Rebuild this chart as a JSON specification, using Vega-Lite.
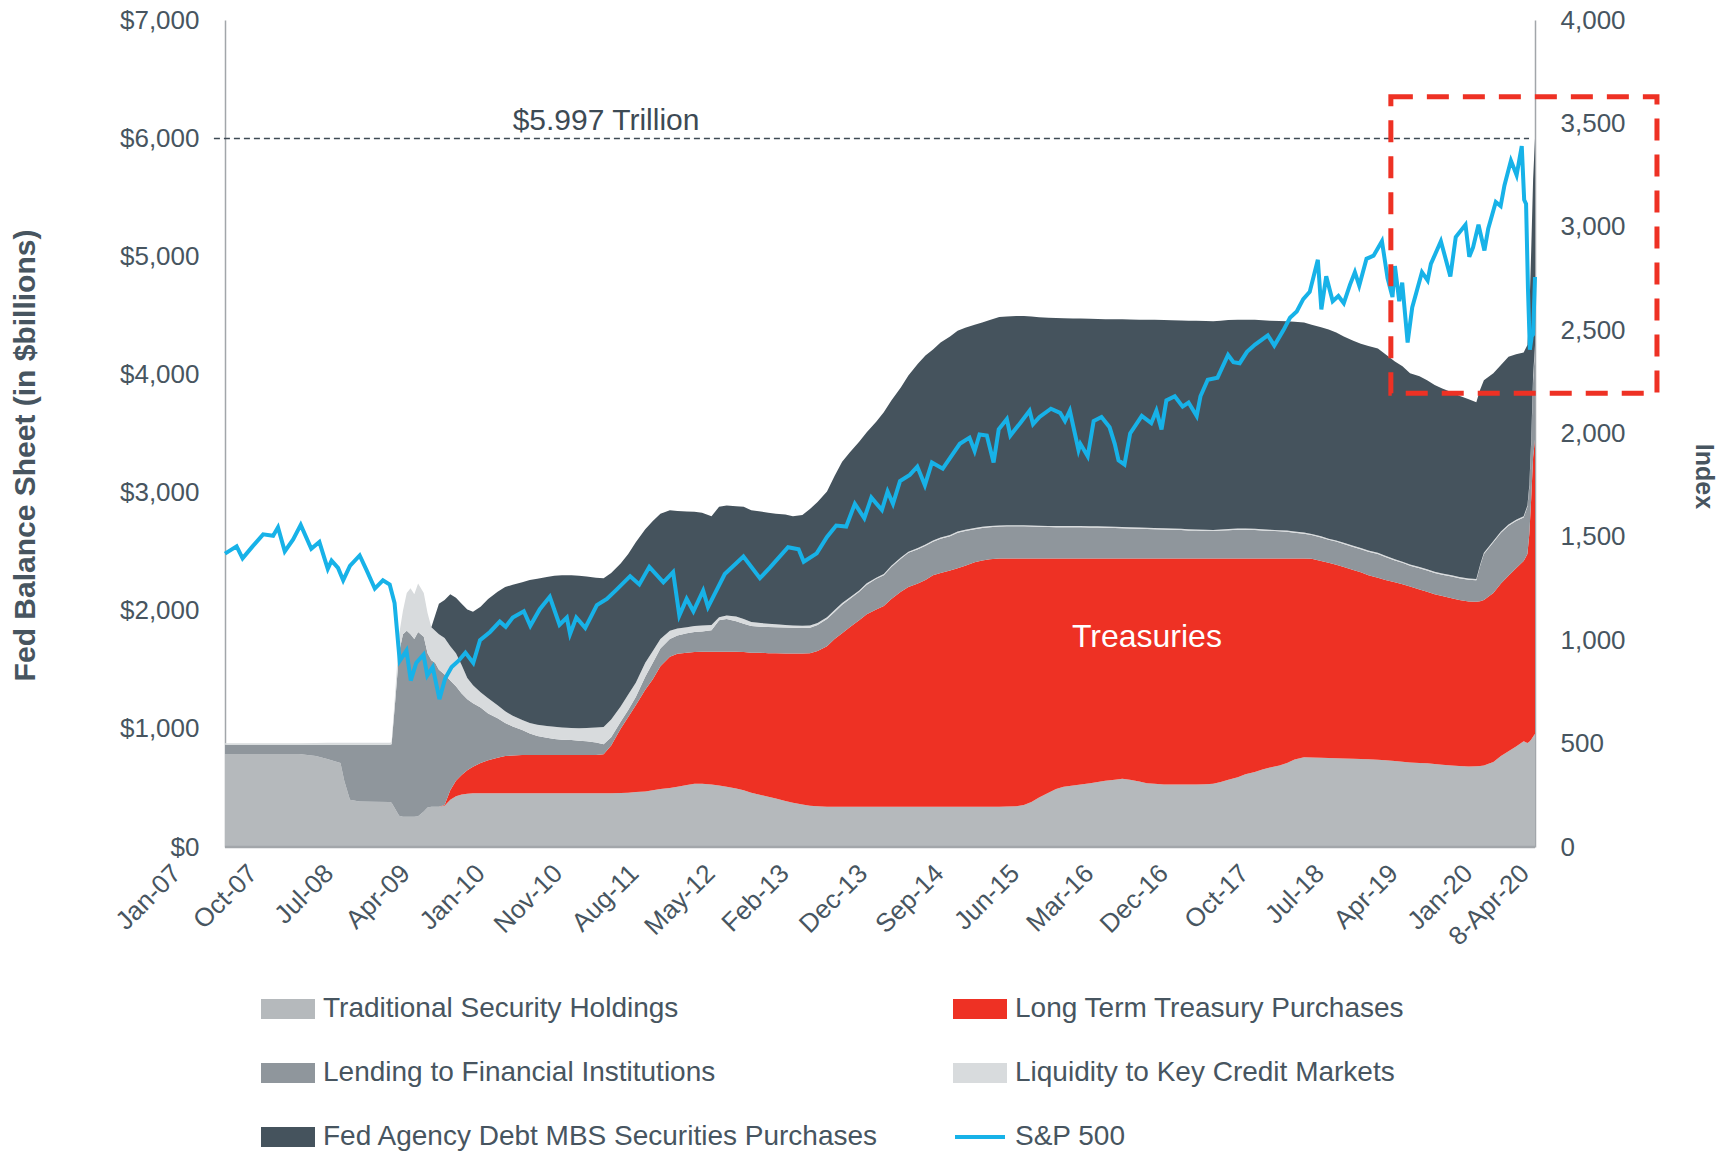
{
  "$schema": "https://vega.github.io/schema/vega-lite/v6.json",
  "width": 1310,
  "height": 827,
  "autosize": {"type": "none"},
  "padding": {"left": 225, "top": 20, "right": 193, "bottom": 306},
  "background": "white",
  "config": {
    "view": {"stroke": null},
    "font": "Liberation Sans",
    "axis": {"grid": false, "labelFont": "Liberation Sans", "titleFont": "Liberation Sans"},
    "legend": {"labelFont": "Liberation Sans"}
  },
  "datasets": {
    "fed": [
      {"date":"2007-01-03","trad":787,"lttp":0,"lend":78,"liq":13,"mbs":0},
      {"date":"2007-04-04","trad":787,"lttp":0,"lend":78,"liq":13,"mbs":0},
      {"date":"2007-07-04","trad":787,"lttp":0,"lend":78,"liq":13,"mbs":0},
      {"date":"2007-10-03","trad":787,"lttp":0,"lend":78,"liq":13,"mbs":0},
      {"date":"2007-12-05","trad":770,"lttp":0,"lend":96,"liq":14,"mbs":0},
      {"date":"2008-01-16","trad":745,"lttp":0,"lend":121,"liq":16,"mbs":0},
      {"date":"2008-03-05","trad":710,"lttp":0,"lend":156,"liq":16,"mbs":0},
      {"date":"2008-03-19","trad":560,"lttp":0,"lend":306,"liq":16,"mbs":0},
      {"date":"2008-04-09","trad":400,"lttp":0,"lend":466,"liq":16,"mbs":0},
      {"date":"2008-05-14","trad":385,"lttp":0,"lend":481,"liq":16,"mbs":0},
      {"date":"2008-07-02","trad":384,"lttp":0,"lend":482,"liq":16,"mbs":0},
      {"date":"2008-09-03","trad":380,"lttp":0,"lend":486,"liq":16,"mbs":0},
      {"date":"2008-09-10","trad":375,"lttp":0,"lend":495,"liq":16,"mbs":0},
      {"date":"2008-09-24","trad":320,"lttp":0,"lend":930,"liq":80,"mbs":0},
      {"date":"2008-10-08","trad":265,"lttp":0,"lend":1385,"liq":150,"mbs":0},
      {"date":"2008-10-22","trad":255,"lttp":0,"lend":1545,"liq":200,"mbs":0},
      {"date":"2008-11-05","trad":255,"lttp":0,"lend":1575,"liq":320,"mbs":0},
      {"date":"2008-11-19","trad":255,"lttp":0,"lend":1545,"liq":390,"mbs":0},
      {"date":"2008-12-03","trad":255,"lttp":0,"lend":1505,"liq":380,"mbs":0},
      {"date":"2008-12-17","trad":260,"lttp":0,"lend":1560,"liq":410,"mbs":0},
      {"date":"2009-01-07","trad":300,"lttp":0,"lend":1480,"liq":370,"mbs":0},
      {"date":"2009-01-21","trad":335,"lttp":0,"lend":1305,"liq":340,"mbs":0},
      {"date":"2009-02-04","trad":341,"lttp":0,"lend":1239,"liq":280,"mbs":0},
      {"date":"2009-02-18","trad":341,"lttp":0,"lend":1219,"liq":270,"mbs":130},
      {"date":"2009-03-04","trad":341,"lttp":0,"lend":1159,"liq":300,"mbs":260},
      {"date":"2009-03-25","trad":350,"lttp":5,"lend":1105,"liq":310,"mbs":320},
      {"date":"2009-04-15","trad":400,"lttp":80,"lend":930,"liq":290,"mbs":440},
      {"date":"2009-05-06","trad":430,"lttp":130,"lend":800,"liq":280,"mbs":470},
      {"date":"2009-05-27","trad":445,"lttp":165,"lend":690,"liq":240,"mbs":520},
      {"date":"2009-06-17","trad":450,"lttp":200,"lend":600,"liq":180,"mbs":580},
      {"date":"2009-07-08","trad":454,"lttp":226,"lend":536,"liq":154,"mbs":622},
      {"date":"2009-08-05","trad":455,"lttp":255,"lend":470,"liq":130,"mbs":724},
      {"date":"2009-09-02","trad":455,"lttp":280,"lend":395,"liq":130,"mbs":840},
      {"date":"2009-10-07","trad":455,"lttp":300,"lend":335,"liq":110,"mbs":960},
      {"date":"2009-11-04","trad":455,"lttp":315,"lend":280,"liq":100,"mbs":1050},
      {"date":"2009-12-02","trad":455,"lttp":320,"lend":245,"liq":90,"mbs":1110},
      {"date":"2010-01-06","trad":455,"lttp":323,"lend":212,"liq":85,"mbs":1165},
      {"date":"2010-02-03","trad":455,"lttp":324,"lend":181,"liq":90,"mbs":1210},
      {"date":"2010-03-03","trad":455,"lttp":324,"lend":161,"liq":95,"mbs":1235},
      {"date":"2010-04-07","trad":455,"lttp":324,"lend":146,"liq":100,"mbs":1260},
      {"date":"2010-05-05","trad":455,"lttp":324,"lend":136,"liq":103,"mbs":1277},
      {"date":"2010-06-02","trad":455,"lttp":324,"lend":129,"liq":104,"mbs":1288},
      {"date":"2010-07-07","trad":455,"lttp":324,"lend":126,"liq":103,"mbs":1292},
      {"date":"2010-08-04","trad":455,"lttp":324,"lend":121,"liq":105,"mbs":1291},
      {"date":"2010-09-01","trad":455,"lttp":324,"lend":116,"liq":113,"mbs":1282},
      {"date":"2010-10-06","trad":455,"lttp":324,"lend":106,"liq":127,"mbs":1268},
      {"date":"2010-11-03","trad":455,"lttp":330,"lend":85,"liq":145,"mbs":1260},
      {"date":"2010-12-01","trad":456,"lttp":404,"lend":70,"liq":150,"mbs":1240},
      {"date":"2011-01-05","trad":458,"lttp":542,"lend":60,"liq":130,"mbs":1210},
      {"date":"2011-02-02","trad":460,"lttp":640,"lend":60,"liq":130,"mbs":1190},
      {"date":"2011-03-02","trad":465,"lttp":735,"lend":70,"liq":120,"mbs":1190},
      {"date":"2011-04-06","trad":470,"lttp":860,"lend":110,"liq":120,"mbs":1130},
      {"date":"2011-05-04","trad":480,"lttp":940,"lend":140,"liq":100,"mbs":1100},
      {"date":"2011-06-01","trad":490,"lttp":1040,"lend":150,"liq":80,"mbs":1060},
      {"date":"2011-07-06","trad":500,"lttp":1110,"lend":150,"liq":70,"mbs":1020},
      {"date":"2011-08-03","trad":510,"lttp":1125,"lend":155,"liq":60,"mbs":995},
      {"date":"2011-09-07","trad":525,"lttp":1120,"lend":165,"liq":50,"mbs":980},
      {"date":"2011-10-05","trad":535,"lttp":1115,"lend":170,"liq":50,"mbs":968},
      {"date":"2011-11-02","trad":535,"lttp":1117,"lend":173,"liq":50,"mbs":955},
      {"date":"2011-12-07","trad":528,"lttp":1125,"lend":182,"liq":45,"mbs":920},
      {"date":"2012-01-04","trad":520,"lttp":1133,"lend":267,"liq":25,"mbs":935},
      {"date":"2012-02-01","trad":510,"lttp":1143,"lend":277,"liq":30,"mbs":930},
      {"date":"2012-03-07","trad":495,"lttp":1158,"lend":257,"liq":40,"mbs":935},
      {"date":"2012-04-04","trad":480,"lttp":1170,"lend":240,"liq":40,"mbs":950},
      {"date":"2012-05-02","trad":460,"lttp":1185,"lend":225,"liq":35,"mbs":945},
      {"date":"2012-06-06","trad":440,"lttp":1205,"lend":220,"liq":30,"mbs":945},
      {"date":"2012-07-04","trad":425,"lttp":1215,"lend":222,"liq":28,"mbs":940},
      {"date":"2012-08-01","trad":410,"lttp":1230,"lend":220,"liq":25,"mbs":935},
      {"date":"2012-09-05","trad":390,"lttp":1248,"lend":220,"liq":22,"mbs":935},
      {"date":"2012-10-03","trad":375,"lttp":1262,"lend":218,"liq":20,"mbs":925},
      {"date":"2012-11-07","trad":360,"lttp":1277,"lend":216,"liq":20,"mbs":937},
      {"date":"2012-12-05","trad":350,"lttp":1290,"lend":215,"liq":20,"mbs":985},
      {"date":"2013-01-02","trad":345,"lttp":1315,"lend":220,"liq":15,"mbs":1025},
      {"date":"2013-02-06","trad":340,"lttp":1360,"lend":230,"liq":15,"mbs":1065},
      {"date":"2013-03-06","trad":340,"lttp":1420,"lend":230,"liq":15,"mbs":1135},
      {"date":"2013-04-03","trad":340,"lttp":1470,"lend":240,"liq":15,"mbs":1195},
      {"date":"2013-05-01","trad":340,"lttp":1520,"lend":240,"liq":12,"mbs":1228},
      {"date":"2013-06-05","trad":340,"lttp":1580,"lend":240,"liq":12,"mbs":1258},
      {"date":"2013-07-03","trad":340,"lttp":1630,"lend":250,"liq":12,"mbs":1278},
      {"date":"2013-08-07","trad":340,"lttp":1670,"lend":260,"liq":10,"mbs":1320},
      {"date":"2013-09-04","trad":340,"lttp":1700,"lend":260,"liq":10,"mbs":1370},
      {"date":"2013-10-02","trad":340,"lttp":1760,"lend":270,"liq":10,"mbs":1400},
      {"date":"2013-11-06","trad":340,"lttp":1820,"lend":280,"liq":10,"mbs":1440},
      {"date":"2013-12-04","trad":340,"lttp":1860,"lend":290,"liq":10,"mbs":1490},
      {"date":"2014-01-08","trad":340,"lttp":1890,"lend":290,"liq":10,"mbs":1560},
      {"date":"2014-02-05","trad":340,"lttp":1920,"lend":290,"liq":10,"mbs":1600},
      {"date":"2014-03-05","trad":340,"lttp":1960,"lend":284,"liq":10,"mbs":1616},
      {"date":"2014-04-02","trad":340,"lttp":1980,"lend":290,"liq":10,"mbs":1650},
      {"date":"2014-05-07","trad":340,"lttp":2000,"lend":290,"liq":10,"mbs":1680},
      {"date":"2014-06-04","trad":340,"lttp":2020,"lend":300,"liq":10,"mbs":1700},
      {"date":"2014-07-02","trad":340,"lttp":2040,"lend":295,"liq":10,"mbs":1710},
      {"date":"2014-08-06","trad":340,"lttp":2070,"lend":280,"liq":10,"mbs":1720},
      {"date":"2014-09-03","trad":340,"lttp":2085,"lend":275,"liq":10,"mbs":1730},
      {"date":"2014-10-01","trad":340,"lttp":2095,"lend":271,"liq":10,"mbs":1744},
      {"date":"2014-11-05","trad":340,"lttp":2102,"lend":270,"liq":10,"mbs":1764},
      {"date":"2014-12-03","trad":342,"lttp":2100,"lend":272,"liq":10,"mbs":1766},
      {"date":"2015-01-07","trad":345,"lttp":2097,"lend":272,"liq":10,"mbs":1770},
      {"date":"2015-02-04","trad":355,"lttp":2087,"lend":272,"liq":10,"mbs":1770},
      {"date":"2015-03-04","trad":380,"lttp":2062,"lend":270,"liq":10,"mbs":1768},
      {"date":"2015-04-01","trad":420,"lttp":2022,"lend":268,"liq":10,"mbs":1765},
      {"date":"2015-05-06","trad":460,"lttp":1982,"lend":266,"liq":10,"mbs":1762},
      {"date":"2015-06-03","trad":490,"lttp":1952,"lend":265,"liq":10,"mbs":1761},
      {"date":"2015-07-01","trad":510,"lttp":1932,"lend":264,"liq":10,"mbs":1760},
      {"date":"2015-08-05","trad":520,"lttp":1922,"lend":264,"liq":10,"mbs":1758},
      {"date":"2015-09-02","trad":530,"lttp":1912,"lend":264,"liq":10,"mbs":1758},
      {"date":"2015-10-07","trad":540,"lttp":1902,"lend":263,"liq":10,"mbs":1757},
      {"date":"2015-11-04","trad":550,"lttp":1892,"lend":262,"liq":10,"mbs":1756},
      {"date":"2015-12-02","trad":560,"lttp":1882,"lend":260,"liq":10,"mbs":1756},
      {"date":"2016-01-06","trad":570,"lttp":1872,"lend":258,"liq":10,"mbs":1756},
      {"date":"2016-02-03","trad":578,"lttp":1864,"lend":256,"liq":10,"mbs":1758},
      {"date":"2016-03-02","trad":570,"lttp":1872,"lend":254,"liq":10,"mbs":1758},
      {"date":"2016-04-06","trad":555,"lttp":1887,"lend":252,"liq":10,"mbs":1759},
      {"date":"2016-05-04","trad":540,"lttp":1902,"lend":250,"liq":10,"mbs":1760},
      {"date":"2016-06-01","trad":535,"lttp":1907,"lend":248,"liq":10,"mbs":1762},
      {"date":"2016-07-06","trad":530,"lttp":1912,"lend":246,"liq":10,"mbs":1762},
      {"date":"2016-08-03","trad":528,"lttp":1914,"lend":244,"liq":10,"mbs":1762},
      {"date":"2016-09-07","trad":528,"lttp":1914,"lend":242,"liq":10,"mbs":1762},
      {"date":"2016-10-05","trad":530,"lttp":1912,"lend":238,"liq":10,"mbs":1765},
      {"date":"2016-11-02","trad":530,"lttp":1912,"lend":236,"liq":10,"mbs":1766},
      {"date":"2016-12-07","trad":532,"lttp":1910,"lend":233,"liq":10,"mbs":1768},
      {"date":"2017-01-04","trad":535,"lttp":1907,"lend":232,"liq":10,"mbs":1766},
      {"date":"2017-02-01","trad":550,"lttp":1892,"lend":236,"liq":10,"mbs":1767},
      {"date":"2017-03-01","trad":570,"lttp":1872,"lend":240,"liq":10,"mbs":1768},
      {"date":"2017-04-05","trad":590,"lttp":1852,"lend":243,"liq":10,"mbs":1767},
      {"date":"2017-05-03","trad":615,"lttp":1827,"lend":244,"liq":10,"mbs":1767},
      {"date":"2017-06-07","trad":635,"lttp":1807,"lend":242,"liq":10,"mbs":1768},
      {"date":"2017-07-05","trad":655,"lttp":1787,"lend":238,"liq":10,"mbs":1768},
      {"date":"2017-08-02","trad":672,"lttp":1770,"lend":234,"liq":10,"mbs":1769},
      {"date":"2017-09-06","trad":690,"lttp":1752,"lend":230,"liq":10,"mbs":1770},
      {"date":"2017-10-04","trad":710,"lttp":1732,"lend":226,"liq":10,"mbs":1772},
      {"date":"2017-11-01","trad":740,"lttp":1702,"lend":218,"liq":10,"mbs":1776},
      {"date":"2017-12-06","trad":760,"lttp":1682,"lend":210,"liq":10,"mbs":1778},
      {"date":"2018-01-03","trad":758,"lttp":1682,"lend":200,"liq":10,"mbs":1770},
      {"date":"2018-02-07","trad":756,"lttp":1664,"lend":200,"liq":10,"mbs":1770},
      {"date":"2018-03-07","trad":754,"lttp":1651,"lend":195,"liq":10,"mbs":1770},
      {"date":"2018-04-04","trad":752,"lttp":1638,"lend":195,"liq":10,"mbs":1760},
      {"date":"2018-05-02","trad":750,"lttp":1620,"lend":195,"liq":10,"mbs":1745},
      {"date":"2018-06-06","trad":748,"lttp":1597,"lend":195,"liq":10,"mbs":1735},
      {"date":"2018-07-04","trad":745,"lttp":1580,"lend":195,"liq":10,"mbs":1730},
      {"date":"2018-08-01","trad":742,"lttp":1558,"lend":200,"liq":10,"mbs":1730},
      {"date":"2018-09-05","trad":738,"lttp":1542,"lend":200,"liq":10,"mbs":1730},
      {"date":"2018-10-03","trad":734,"lttp":1526,"lend":195,"liq":10,"mbs":1705},
      {"date":"2018-11-07","trad":728,"lttp":1512,"lend":185,"liq":10,"mbs":1675},
      {"date":"2018-12-05","trad":722,"lttp":1503,"lend":180,"liq":10,"mbs":1655},
      {"date":"2019-01-02","trad":716,"lttp":1489,"lend":176,"liq":10,"mbs":1619},
      {"date":"2019-02-06","trad":712,"lttp":1468,"lend":180,"liq":10,"mbs":1615},
      {"date":"2019-03-06","trad":708,"lttp":1452,"lend":180,"liq":10,"mbs":1600},
      {"date":"2019-04-03","trad":702,"lttp":1438,"lend":180,"liq":10,"mbs":1580},
      {"date":"2019-05-01","trad":696,"lttp":1429,"lend":180,"liq":10,"mbs":1565},
      {"date":"2019-06-05","trad":690,"lttp":1415,"lend":185,"liq":10,"mbs":1550},
      {"date":"2019-07-03","trad":686,"lttp":1404,"lend":185,"liq":10,"mbs":1535},
      {"date":"2019-08-07","trad":682,"lttp":1396,"lend":184,"liq":10,"mbs":1518},
      {"date":"2019-09-04","trad":684,"lttp":1392,"lend":182,"liq":10,"mbs":1497},
      {"date":"2019-09-18","trad":686,"lttp":1394,"lend":300,"liq":10,"mbs":1480},
      {"date":"2019-10-02","trad":690,"lttp":1400,"lend":390,"liq":10,"mbs":1460},
      {"date":"2019-11-06","trad":720,"lttp":1430,"lend":430,"liq":10,"mbs":1420},
      {"date":"2019-12-04","trad":770,"lttp":1460,"lend":430,"liq":10,"mbs":1410},
      {"date":"2020-01-01","trad":810,"lttp":1485,"lend":425,"liq":10,"mbs":1420},
      {"date":"2020-01-29","trad":850,"lttp":1510,"lend":400,"liq":10,"mbs":1400},
      {"date":"2020-02-26","trad":895,"lttp":1525,"lend":370,"liq":10,"mbs":1385},
      {"date":"2020-03-11","trad":880,"lttp":1600,"lend":400,"liq":10,"mbs":1360},
      {"date":"2020-03-18","trad":890,"lttp":1760,"lend":400,"liq":15,"mbs":1435},
      {"date":"2020-03-25","trad":910,"lttp":2040,"lend":480,"liq":20,"mbs":1600},
      {"date":"2020-04-01","trad":935,"lttp":2365,"lend":650,"liq":40,"mbs":1660},
      {"date":"2020-04-08","trad":959,"lttp":2491,"lend":750,"liq":50,"mbs":1747}
    ],
    "sp": [
      {"date":"2007-01-03","sp":1419},{"date":"2007-02-15","sp":1454},{"date":"2007-03-09","sp":1396},
      {"date":"2007-04-15","sp":1454},{"date":"2007-05-24","sp":1512},{"date":"2007-06-30","sp":1505},
      {"date":"2007-07-18","sp":1546},{"date":"2007-08-12","sp":1430},{"date":"2007-09-12","sp":1488},
      {"date":"2007-10-10","sp":1558},{"date":"2007-11-18","sp":1442},{"date":"2007-12-18","sp":1475},
      {"date":"2008-01-18","sp":1345},{"date":"2008-02-01","sp":1385},{"date":"2008-02-25","sp":1350},
      {"date":"2008-03-15","sp":1290},{"date":"2008-04-09","sp":1360},{"date":"2008-05-15","sp":1410},
      {"date":"2008-06-09","sp":1340},{"date":"2008-07-10","sp":1250},{"date":"2008-08-09","sp":1290},
      {"date":"2008-09-03","sp":1270},{"date":"2008-09-21","sp":1180},{"date":"2008-10-10","sp":900},
      {"date":"2008-11-04","sp":950},{"date":"2008-11-20","sp":805},{"date":"2008-12-10","sp":890},
      {"date":"2009-01-06","sp":930},{"date":"2009-01-20","sp":830},{"date":"2009-02-09","sp":870},
      {"date":"2009-03-06","sp":715},{"date":"2009-03-27","sp":815},{"date":"2009-04-20","sp":870},
      {"date":"2009-05-15","sp":900},{"date":"2009-06-10","sp":940},{"date":"2009-07-09","sp":890},
      {"date":"2009-08-03","sp":1000},{"date":"2009-09-09","sp":1040},{"date":"2009-10-15","sp":1090},
      {"date":"2009-11-06","sp":1065},{"date":"2009-12-02","sp":1110},{"date":"2010-01-12","sp":1140},
      {"date":"2010-02-05","sp":1070},{"date":"2010-03-12","sp":1150},{"date":"2010-04-18","sp":1210},
      {"date":"2010-05-24","sp":1075},{"date":"2010-06-20","sp":1110},{"date":"2010-07-02","sp":1030},
      {"date":"2010-07-25","sp":1110},{"date":"2010-08-27","sp":1060},{"date":"2010-10-09","sp":1170},
      {"date":"2010-11-15","sp":1200},{"date":"2010-12-21","sp":1245},{"date":"2011-02-09","sp":1310},
      {"date":"2011-03-15","sp":1270},{"date":"2011-04-21","sp":1355},{"date":"2011-06-12","sp":1280},
      {"date":"2011-07-18","sp":1330},{"date":"2011-08-10","sp":1120},{"date":"2011-09-06","sp":1200},
      {"date":"2011-10-01","sp":1140},{"date":"2011-11-06","sp":1240},{"date":"2011-11-24","sp":1160},
      {"date":"2012-01-25","sp":1320},{"date":"2012-04-03","sp":1405},{"date":"2012-06-03","sp":1300},
      {"date":"2012-07-09","sp":1350},{"date":"2012-09-15","sp":1450},{"date":"2012-10-24","sp":1440},
      {"date":"2012-11-12","sp":1380},{"date":"2012-12-30","sp":1420},{"date":"2013-02-06","sp":1500},
      {"date":"2013-03-12","sp":1555},{"date":"2013-04-18","sp":1550},{"date":"2013-05-20","sp":1660},
      {"date":"2013-06-24","sp":1590},{"date":"2013-07-20","sp":1690},{"date":"2013-08-28","sp":1630},
      {"date":"2013-09-18","sp":1720},{"date":"2013-10-08","sp":1660},{"date":"2013-11-03","sp":1770},
      {"date":"2013-12-09","sp":1800},{"date":"2014-01-06","sp":1840},{"date":"2014-02-03","sp":1750},
      {"date":"2014-03-01","sp":1860},{"date":"2014-04-10","sp":1830},{"date":"2014-05-06","sp":1880},
      {"date":"2014-06-12","sp":1950},{"date":"2014-07-18","sp":1980},{"date":"2014-08-06","sp":1915},
      {"date":"2014-08-24","sp":1995},{"date":"2014-09-20","sp":1990},{"date":"2014-10-15","sp":1860},
      {"date":"2014-11-03","sp":2020},{"date":"2014-12-03","sp":2070},{"date":"2014-12-16","sp":1990},
      {"date":"2015-01-21","sp":2050},{"date":"2015-02-25","sp":2110},{"date":"2015-03-10","sp":2045},
      {"date":"2015-04-03","sp":2080},{"date":"2015-05-15","sp":2120},{"date":"2015-06-18","sp":2100},
      {"date":"2015-07-06","sp":2060},{"date":"2015-07-24","sp":2110},{"date":"2015-08-25","sp":1920},
      {"date":"2015-09-01","sp":1950},{"date":"2015-09-28","sp":1890},{"date":"2015-10-20","sp":2060},
      {"date":"2015-11-18","sp":2080},{"date":"2015-12-18","sp":2030},{"date":"2016-01-06","sp":1950},
      {"date":"2016-01-20","sp":1870},{"date":"2016-02-11","sp":1850},{"date":"2016-03-03","sp":2000},
      {"date":"2016-04-15","sp":2085},{"date":"2016-05-20","sp":2050},{"date":"2016-06-08","sp":2110},
      {"date":"2016-06-27","sp":2020},{"date":"2016-07-15","sp":2160},{"date":"2016-08-15","sp":2180},
      {"date":"2016-09-13","sp":2130},{"date":"2016-10-05","sp":2150},{"date":"2016-11-04","sp":2085},
      {"date":"2016-11-18","sp":2180},{"date":"2016-12-15","sp":2260},{"date":"2017-01-20","sp":2270},
      {"date":"2017-02-28","sp":2380},{"date":"2017-03-20","sp":2345},{"date":"2017-04-12","sp":2340},
      {"date":"2017-05-09","sp":2395},{"date":"2017-06-08","sp":2430},{"date":"2017-07-25","sp":2475},
      {"date":"2017-08-18","sp":2425},{"date":"2017-09-21","sp":2500},{"date":"2017-10-15","sp":2560},
      {"date":"2017-11-09","sp":2590},{"date":"2017-12-03","sp":2650},{"date":"2017-12-27","sp":2685},
      {"date":"2018-01-26","sp":2840},{"date":"2018-02-08","sp":2600},{"date":"2018-02-26","sp":2760},
      {"date":"2018-03-22","sp":2640},{"date":"2018-04-12","sp":2665},{"date":"2018-05-02","sp":2630},
      {"date":"2018-05-25","sp":2720},{"date":"2018-06-12","sp":2780},{"date":"2018-06-28","sp":2715},
      {"date":"2018-07-25","sp":2845},{"date":"2018-08-20","sp":2860},{"date":"2018-09-20","sp":2930},
      {"date":"2018-10-11","sp":2750},{"date":"2018-10-29","sp":2660},{"date":"2018-11-07","sp":2810},
      {"date":"2018-11-23","sp":2640},{"date":"2018-12-04","sp":2730},{"date":"2018-12-24","sp":2440},
      {"date":"2019-01-10","sp":2610},{"date":"2019-02-15","sp":2780},{"date":"2019-03-08","sp":2740},
      {"date":"2019-03-20","sp":2820},{"date":"2019-04-26","sp":2930},{"date":"2019-05-31","sp":2760},
      {"date":"2019-06-20","sp":2950},{"date":"2019-07-26","sp":3010},{"date":"2019-08-09","sp":2855},
      {"date":"2019-08-23","sp":2900},{"date":"2019-09-12","sp":3010},{"date":"2019-10-04","sp":2885},
      {"date":"2019-10-18","sp":2990},{"date":"2019-11-15","sp":3120},{"date":"2019-12-03","sp":3100},
      {"date":"2019-12-17","sp":3200},{"date":"2020-01-10","sp":3320},{"date":"2020-01-31","sp":3250},
      {"date":"2020-02-19","sp":3390},{"date":"2020-02-28","sp":3130},{"date":"2020-03-06","sp":3110},
      {"date":"2020-03-13","sp":2700},{"date":"2020-03-20","sp":2405},{"date":"2020-03-27","sp":2470},
      {"date":"2020-04-01","sp":2480},{"date":"2020-04-08","sp":2757}
    ],
    "ticks": [
      {"date":"2007-01-03","label":"Jan-07"},{"date":"2007-10-12","label":"Oct-07"},
      {"date":"2008-07-20","label":"Jul-08"},{"date":"2009-04-28","label":"Apr-09"},
      {"date":"2010-01-31","label":"Jan-10"},{"date":"2010-11-13","label":"Nov-10"},
      {"date":"2011-08-22","label":"Aug-11"},{"date":"2012-05-30","label":"May-12"},
      {"date":"2013-02-28","label":"Feb-13"},{"date":"2013-12-15","label":"Dec-13"},
      {"date":"2014-09-23","label":"Sep-14"},{"date":"2015-06-30","label":"Jun-15"},
      {"date":"2016-03-31","label":"Mar-16"},{"date":"2016-12-31","label":"Dec-16"},
      {"date":"2017-10-25","label":"Oct-17"},{"date":"2018-07-31","label":"Jul-18"},
      {"date":"2019-04-30","label":"Apr-19"},{"date":"2020-01-31","label":"Jan-20"}
    ]
  },
  "layer": [
    {
      "data": {"name": "fed"},
      "transform": [
        {"fold": ["trad", "lttp", "lend", "liq", "mbs"], "as": ["key", "value"]},
        {"lookup": "key", "from": {"data": {"values": [
          {"key": "trad", "series": "Traditional Security Holdings", "rank": 1},
          {"key": "lttp", "series": "Long Term Treasury Purchases", "rank": 2},
          {"key": "lend", "series": "Lending to Financial Institutions", "rank": 3},
          {"key": "liq", "series": "Liquidity to Key Credit Markets", "rank": 4},
          {"key": "mbs", "series": "Fed Agency Debt MBS Securities Purchases", "rank": 5}
        ]}, "key": "key", "fields": ["series", "rank"]}}
      ],
      "mark": {"type": "area", "interpolate": "linear"},
      "encoding": {
        "x": {
          "field": "date", "type": "temporal",
          "scale": {"domain": [{"year": 2007, "month": 1, "date": 3, "utc": true}, {"year": 2020, "month": 4, "date": 8, "utc": true}]},
          "axis": null
        },
        "y": {
          "field": "value", "type": "quantitative", "stack": "zero",
          "scale": {"domain": [0, 7000], "nice": false, "zero": true},
          "axis": {
            "orient": "left",
            "values": [0, 1000, 2000, 3000, 4000, 5000, 6000, 7000],
            "format": "$,.0f",
            "labelFontSize": 26,
            "labelColor": "#475560",
            "labelPadding": 26,
            "labelFlush": false,
            "ticks": false,
            "domainColor": "#a2a6aa",
            "domainWidth": 1.5,
            "grid": false,
            "title": "Fed Balance Sheet (in $billions)",
            "titleFontSize": 30,
            "titleFontWeight": "bold",
            "titleColor": "#475560",
            "titleAngle": -90,
            "titleAlign": "center",
            "titleBaseline": "middle",
            "titleX": -200,
            "titleY": 435
          }
        },
        "color": {
          "field": "series", "type": "nominal",
          "scale": {
            "domain": ["Traditional Security Holdings", "Long Term Treasury Purchases", "Lending to Financial Institutions", "Liquidity to Key Credit Markets", "Fed Agency Debt MBS Securities Purchases", "S&P 500"],
            "range": ["#b5b9bc", "#ee3124", "#8f969c", "#d8dbdd", "#45535d", "#17b2e8"]
          },
          "legend": {
            "orient": "none",
            "legendX": 36,
            "legendY": 962,
            "direction": "horizontal",
            "columns": 2,
            "title": null,
            "padding": 0,
            "labelFontSize": 28,
            "labelColor": "#475560",
            "labelLimit": 900,
            "labelOffset": 8,
            "rowPadding": 21,
            "columnPadding": 68,
            "symbolType": "M-1,-0.32H1V0.32H-1Z",
            "symbolSize": 2500,
            "symbolStrokeWidth": 0,
            "encode": {
              "symbols": {
                "update": {
                  "shape": {"signal": "datum.value === 'S&P 500' ? 'M-1,0H1' : 'M-1,-0.32H1V0.32H-1Z'"},
                  "fill": {"signal": "datum.value === 'S&P 500' ? 'transparent' : scale('color', datum.value)"},
                  "stroke": {"signal": "datum.value === 'S&P 500' ? '#17b2e8' : 'transparent'"},
                  "strokeWidth": {"value": 4},
                  "opacity": {"value": 1}
                }
              }
            }
          }
        },
        "order": {"field": "rank", "type": "quantitative"}
      }
    },
    {
      "data": {"name": "sp"},
      "mark": {"type": "line", "strokeWidth": 4, "interpolate": "linear"},
      "encoding": {
        "x": {
          "field": "date", "type": "temporal",
          "scale": {"domain": [{"year": 2007, "month": 1, "date": 3, "utc": true}, {"year": 2020, "month": 4, "date": 8, "utc": true}]},
          "axis": null
        },
        "y": {
          "field": "sp", "type": "quantitative",
          "scale": {"domain": [0, 4000], "nice": false},
          "axis": {
            "orient": "right",
            "values": [0, 500, 1000, 1500, 2000, 2500, 3000, 3500, 4000],
            "format": ",.0f",
            "labelFontSize": 26,
            "labelColor": "#475560",
            "labelPadding": 25,
            "labelFlush": false,
            "ticks": false,
            "domainColor": "#a2a6aa",
            "domainWidth": 1.5,
            "grid": false,
            "title": "Index",
            "titleFontSize": 25,
            "titleFontWeight": "bold",
            "titleColor": "#475560",
            "titleAngle": 90,
            "titleAlign": "center",
            "titleBaseline": "middle",
            "titleX": 168,
            "titleY": 456
          }
        },
        "color": {"datum": "S&P 500", "type": "nominal"}
      }
    },
    {
      "layer": [
        {
          "data": {"values": [{"start": "2007-01-03", "end": "2020-04-08"}]},
          "mark": {"type": "rule", "strokeWidth": 2.5, "color": "#a2a6aa"},
          "encoding": {
            "x": {"field": "start", "type": "temporal", "scale": {"domain": [{"year": 2007, "month": 1, "date": 3, "utc": true}, {"year": 2020, "month": 4, "date": 8, "utc": true}]}, "axis": null},
            "x2": {"field": "end"},
            "y": {"datum": 0, "type": "quantitative", "scale": {"domain": [0, 7000], "nice": false}, "axis": null}
          }
        },
        {
          "data": {"name": "ticks"},
          "mark": {"type": "text", "fontSize": 26, "color": "#475560", "align": "right", "baseline": "middle", "angle": -45, "dx": -34, "dy": -34},
          "encoding": {
            "x": {"field": "date", "type": "temporal", "scale": {"domain": [{"year": 2007, "month": 1, "date": 3, "utc": true}, {"year": 2020, "month": 4, "date": 8, "utc": true}]}, "axis": null},
            "y": {"datum": -190, "type": "quantitative", "scale": {"domain": [0, 7000], "nice": false}, "axis": null},
            "text": {"field": "label"}
          }
        },
        {
          "data": {"values": [{"date": "2020-04-08", "label": "8-Apr-20"}]},
          "mark": {"type": "text", "fontSize": 26, "color": "#475560", "align": "right", "baseline": "middle", "angle": -45, "dx": -7, "dy": -7},
          "encoding": {
            "x": {"field": "date", "type": "temporal", "scale": {"domain": [{"year": 2007, "month": 1, "date": 3, "utc": true}, {"year": 2020, "month": 4, "date": 8, "utc": true}]}, "axis": null},
            "y": {"datum": -190, "type": "quantitative", "scale": {"domain": [0, 7000], "nice": false}, "axis": null},
            "text": {"field": "label"}
          }
        },
        {
          "data": {"values": [{"start": "2006-11-23", "end": "2020-03-17", "level": 5997}]},
          "mark": {"type": "rule", "strokeDash": [6, 4], "strokeWidth": 1.5, "color": "#3d4a54"},
          "encoding": {
            "x": {"field": "start", "type": "temporal", "scale": {"domain": [{"year": 2007, "month": 1, "date": 3, "utc": true}, {"year": 2020, "month": 4, "date": 8, "utc": true}]}, "axis": null},
            "x2": {"field": "end"},
            "y": {"field": "level", "type": "quantitative", "scale": {"domain": [0, 7000], "nice": false}, "axis": null}
          }
        },
        {
          "data": {"values": [{"date": "2010-11-12", "level": 6069, "label": "$5.997 Trillion"}]},
          "mark": {"type": "text", "fontSize": 30, "color": "#3d4a54", "align": "center", "baseline": "alphabetic"},
          "encoding": {
            "x": {"field": "date", "type": "temporal", "scale": {"domain": [{"year": 2007, "month": 1, "date": 3, "utc": true}, {"year": 2020, "month": 4, "date": 8, "utc": true}]}, "axis": null},
            "y": {"field": "level", "type": "quantitative", "scale": {"domain": [0, 7000], "nice": false}, "axis": null},
            "text": {"field": "label"}
          }
        },
        {
          "data": {"values": [{"date": "2016-05-04", "level": 1693, "label": "Treasuries"}]},
          "mark": {"type": "text", "fontSize": 32, "color": "white", "align": "center", "baseline": "alphabetic"},
          "encoding": {
            "x": {"field": "date", "type": "temporal", "scale": {"domain": [{"year": 2007, "month": 1, "date": 3, "utc": true}, {"year": 2020, "month": 4, "date": 8, "utc": true}]}, "axis": null},
            "y": {"field": "level", "type": "quantitative", "scale": {"domain": [0, 7000], "nice": false}, "axis": null},
            "text": {"field": "label"}
          }
        },
        {
          "data": {"values": [{"start": "2018-10-23", "end": "2021-07-03", "low": 3840, "high": 6351}]},
          "mark": {"type": "rect", "fill": "transparent", "stroke": "#ee3124", "strokeWidth": 5, "strokeDash": [22, 14]},
          "encoding": {
            "x": {"field": "start", "type": "temporal", "scale": {"domain": [{"year": 2007, "month": 1, "date": 3, "utc": true}, {"year": 2020, "month": 4, "date": 8, "utc": true}]}, "axis": null},
            "x2": {"field": "end"},
            "y": {"field": "low", "type": "quantitative", "scale": {"domain": [0, 7000], "nice": false}, "axis": null},
            "y2": {"field": "high"}
          }
        }
      ]
    }
  ],
  "resolve": {"scale": {"y": "independent"}}
}
